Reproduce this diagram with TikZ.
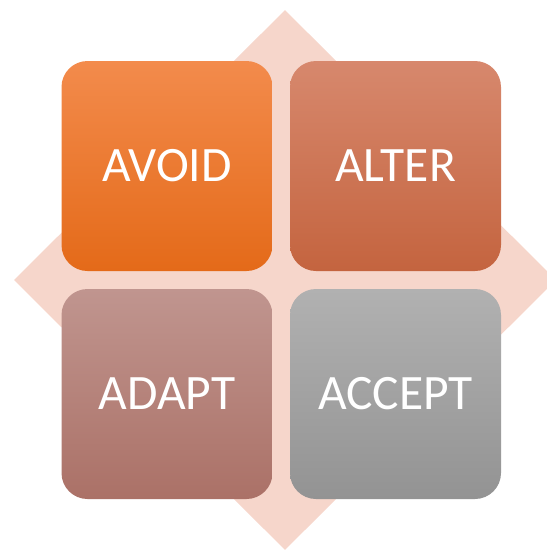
\documentclass[tikz,border=0pt]{standalone}
\usepackage{fontspec}
\setmainfont{Carlito}
\usetikzlibrary{shapes.geometric}
\definecolor{diamondfill}{HTML}{F6D6CB}
\definecolor{avoidtop}{HTML}{F38B4C}
\definecolor{avoidbot}{HTML}{E46A19}
\definecolor{altertop}{HTML}{D7886D}
\definecolor{alterbot}{HTML}{C4643F}
\definecolor{adapttop}{HTML}{C0958F}
\definecolor{adaptbot}{HTML}{AB7167}
\definecolor{accepttop}{HTML}{B1B1B1}
\definecolor{acceptbot}{HTML}{939393}
\tikzset{
  tile/.style={rectangle, rounded corners=26pt, minimum width=211pt, minimum height=210pt,
    inner sep=0pt, text=white, font=\fontsize{49.5}{52}\selectfont},
}
\begin{document}
\begin{tikzpicture}[x=1pt,y=-1pt]
  \useasboundingbox (0,0) rectangle (547,550);
  % background diamond
  \begin{scope}
    \clip (0,0) rectangle (547,550);
    \node[diamond, fill=diamondfill, minimum width=542pt, minimum height=540pt, inner sep=0pt, aspect=1] (bg) at (285,280) {};
  \end{scope}
  % four tiles
  \node[tile, top color=avoidtop, bottom color=avoidbot] (avoid) at (167,166) {AVOID};
  \node[tile, top color=altertop, bottom color=alterbot] (alter) at (395.5,166) {ALTER};
  \node[tile, top color=adapttop, bottom color=adaptbot] (adapt) at (167,394) {ADAPT};
  \node[tile, top color=accepttop, bottom color=acceptbot] (accept) at (395.5,394) {ACCEPT};
\end{tikzpicture}
\end{document}
